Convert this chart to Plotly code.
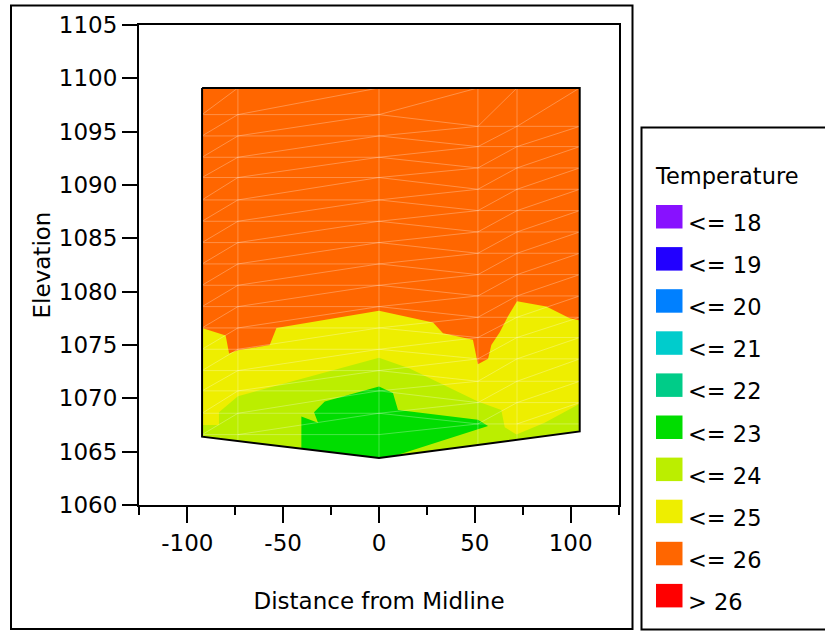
import numpy as np
import plotly.graph_objects as go

# ---------------- data ----------------
legend_title = "Temperature"
temp_labels = ["<= 18", "<= 19", "<= 20", "<= 21", "<= 22",
               "<= 23", "<= 24", "<= 25", "<= 26", "> 26"]
temp_colors = ["#8811FF", "#2200FF", "#0080FF", "#00CCCC", "#00CC88",
               "#00DD00", "#BBEE00", "#EEEE00", "#FF6600", "#FF0000"]

# outline of the surveyed section (distance from midline, elevation)
section_top_x = [-92.3, 104.7]
section_top_y = [1099.1, 1099.1]
section_bottom_x = [104.7, 0.0, -92.3]
section_bottom_y = [1066.9, 1064.4, 1066.4]

# isotherm between "<= 26" (above) and "<= 25" (below)
iso26_x = [-92.3, -80.0, -78.2, -73.6, -57.0, -53.5, 0.0, 28.2, 33.4, 49.0,
           51.6, 56.9, 58.6, 63.0, 67.3, 72.0, 87.3, 99.5, 104.7]
iso26_y = [1076.6, 1075.9, 1074.2, 1074.5, 1075.0, 1076.6, 1078.2, 1077.1, 1076.1, 1075.5,
           1073.2, 1073.7, 1075.0, 1076.2, 1077.7, 1079.1, 1078.6, 1077.5, 1077.3]

# isotherm between "<= 25" (above) and "<= 24" (below)
iso25_x = [-92.3, -83.5, -83.5, -73.6, 0.0, 16.0, 51.6, 63.8, 65.6, 71.7, 86.4, 104.7]
iso25_y = [1067.5, 1067.5, 1068.7, 1070.2, 1073.8, 1072.8, 1069.7, 1068.9, 1067.3, 1066.6, 1067.7, 1069.5]

# closed "<= 23" region
green_x = [-40.5, -40.5, -31.8, -33.9, -28.3, 0.0, 7.3, 9.9, 51.6, 56.9, 8.0, 0.0]
green_y = [1065.3, 1068.3, 1067.7, 1068.7, 1069.7, 1071.1, 1070.5, 1068.9, 1068.0, 1067.4, 1064.6, 1064.4]

# measurement mesh (profile columns and sample elevations)
mesh_cols_left = [-92.3, -73.6, 0.0]
mesh_cols_right = [51.6, 72.0, 104.7]
mesh_rows_left = [1096.6, 1094.6, 1092.6, 1090.7, 1088.6, 1086.6, 1084.6, 1082.6,
                  1080.6, 1078.6, 1076.6, 1074.6, 1072.6, 1070.7, 1068.6, 1066.6]
mesh_rows_right = [1095.5, 1093.6, 1091.6, 1089.6, 1087.6, 1085.6, 1083.6, 1081.6,
                   1079.6, 1077.6, 1075.7, 1073.7, 1071.6, 1069.6, 1067.6]

x_tick_vals = [-100, -50, 0, 50, 100]
x_tick_text = ["-100", "-50", "0", "50", "100"]
y_tick_vals = [1060, 1065, 1070, 1075, 1080, 1085, 1090, 1095, 1100, 1105]
x_range = [-125.2, 125.2]
y_range = [1060, 1105]

# ---------------- figure ----------------
FONT = "DejaVu Sans"
W, H = 825, 631
ML, MR, MT, MB = 139, 206, 25, 126
PW, PH = W - ML - MR, H - MT - MB


def px_x(px):
    return (px - ML) / PW


def px_y(py):
    return (H - MB - py) / PH


bx = section_bottom_x[::-1]
by = section_bottom_y[::-1]


def bottom_at(x):
    return float(np.interp(x, bx, by))


fig = go.Figure()


def region(xs, ys, color):
    fig.add_trace(go.Scatter(x=xs, y=ys, mode="lines", fill="toself",
                             fillcolor=color, line=dict(width=0, color=color),
                             hoverinfo="skip", showlegend=False))


col = dict(zip(temp_labels, temp_colors))
region(section_top_x + section_bottom_x, section_top_y + section_bottom_y, col["<= 26"])
region(iso26_x + section_bottom_x, iso26_y + section_bottom_y, col["<= 25"])
region(iso25_x + section_bottom_x, iso25_y + section_bottom_y, col["<= 24"])
region(green_x, green_y, col["<= 23"])

# mesh lines
top = section_top_y[0]
mx, my = [], []


def seg(x0, y0, x1, y1):
    mx.extend([x0, x1, None])
    my.extend([y0, y1, None])


for c in [mesh_cols_left[1], mesh_cols_left[2], mesh_cols_right[0], mesh_cols_right[1]]:
    seg(c, top, c, bottom_at(c))
for r in mesh_rows_left:
    seg(mesh_cols_left[0], r, mesh_cols_left[-1], r)
for r in mesh_rows_right:
    seg(mesh_cols_right[0], r, mesh_cols_right[-1], r)
for a, b in zip(mesh_cols_left[:-1], mesh_cols_left[1:]):
    for k, r in enumerate(mesh_rows_left):
        seg(a, r, b, mesh_rows_left[k - 1] if k > 0 else top)
for a, b in zip(mesh_cols_right[:-1], mesh_cols_right[1:]):
    for k, r in enumerate(mesh_rows_right):
        seg(a, r, b, mesh_rows_right[k - 1] if k > 0 else top)
a, b = mesh_cols_left[-1], mesh_cols_right[0]
for k, r in enumerate(mesh_rows_left):
    if k < len(mesh_rows_right):
        seg(a, r, b, mesh_rows_right[k])
    seg(a, r, b, mesh_rows_right[k - 1] if k > 0 else top)

fig.add_trace(go.Scatter(x=mx, y=my, mode="lines",
                         line=dict(color="rgba(255,255,255,0.28)", width=1),
                         hoverinfo="skip", showlegend=False))

# section outline
fig.add_trace(go.Scatter(x=section_top_x + section_bottom_x + [section_top_x[0]],
                         y=section_top_y + section_bottom_y + [section_top_y[0]],
                         mode="lines", line=dict(color="black", width=2),
                         hoverinfo="skip", showlegend=False))

axis_common = dict(showgrid=False, zeroline=False, showline=True, linecolor="black",
                   linewidth=2, mirror=True, ticks="outside", tickcolor="black",
                   tickwidth=2, tickfont=dict(family=FONT, size=23, color="black"),
                   automargin=False)

fig.update_xaxes(range=x_range, tickvals=x_tick_vals, ticktext=x_tick_text, ticklen=16,
                 title=dict(text="Distance from Midline", standoff=38,
                            font=dict(family=FONT, size=23, color="black")),
                 minor=dict(dtick=25, tick0=0, ticks="outside", ticklen=8,
                            tickwidth=2, tickcolor="black", showgrid=False),
                 **axis_common)
fig.update_yaxes(range=y_range, tickvals=y_tick_vals, ticklen=15,
                 title=dict(text="Elevation", standoff=2,
                            font=dict(family=FONT, size=23, color="black")),
                 **axis_common)

shapes = []
# outer frame around the chart
shapes.append(dict(type="rect", xref="paper", yref="paper",
                   x0=px_x(11), x1=px_x(632.5), y0=px_y(629), y1=px_y(5.5),
                   line=dict(color="black", width=2), fillcolor="rgba(0,0,0,0)", layer="below"))
# legend frame
shapes.append(dict(type="rect", xref="paper", yref="paper",
                   x0=px_x(641.5), x1=px_x(840), y0=px_y(629.5), y1=px_y(127.5),
                   line=dict(color="black", width=2), fillcolor="white", layer="below"))

annotations = [dict(text=legend_title, xref="paper", yref="paper",
                    x=px_x(653), y=px_y(175.5), xanchor="left", yanchor="middle",
                    showarrow=False, font=dict(family=FONT, size=22.5, color="black"))]
for i, (lab, c) in enumerate(zip(temp_labels, temp_colors)):
    t = 205 + 42.1 * i
    shapes.append(dict(type="rect", xref="paper", yref="paper",
                       x0=px_x(656), x1=px_x(682.5), y0=px_y(t + 23.5), y1=px_y(t),
                       line=dict(width=0), fillcolor=c))
    annotations.append(dict(text=lab, xref="paper", yref="paper",
                            x=px_x(686), y=px_y(t + 18), xanchor="left", yanchor="middle",
                            showarrow=False, font=dict(family=FONT, size=22.5, color="black")))

fig.update_layout(width=W, height=H,
                  margin=dict(l=ML, r=MR, t=MT, b=MB, pad=0),
                  plot_bgcolor="white", paper_bgcolor="white",
                  showlegend=False, shapes=shapes, annotations=annotations,
                  font=dict(family=FONT, size=23, color="black"))

fig.write_html("out.html")
